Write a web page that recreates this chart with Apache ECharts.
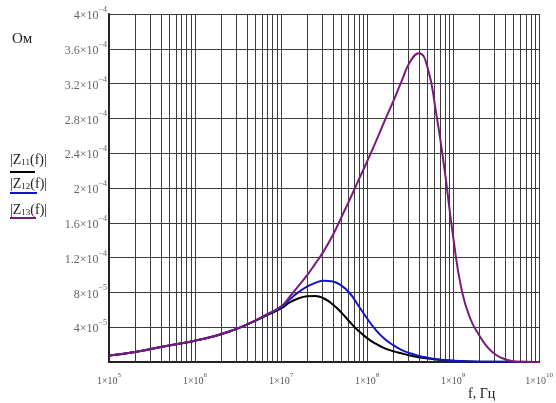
<!DOCTYPE html>
<html>
<head>
<meta charset="utf-8">
<script src="https://cdn.jsdelivr.net/npm/echarts@6/dist/echarts.min.js"></script>
<style>
html,body{margin:0;padding:0;background:#fff;}
#chart{width:556px;height:403px;}
</style>
</head>
<body>
<div id="chart"></div>
<script>
// ---- data ----
const fZ11 = [1e5, 2e5, 5e5, 1e6, 1.58e6, 2.5e6, 4e6, 6.3e6, 1e7, 1.26e7, 1.58e7, 2e7, 2.5e7, 3.16e7, 4e7, 5e7, 6.3e7, 7.9e7,
  1e8, 1.26e8, 1.58e8, 2e8, 2.5e8, 3.16e8, 4e8, 5e8, 6.3e8, 7.9e8, 1e9, 1.58e9, 2.5e9, 1e10];
const vZ11 = [7.5e-6, 1.15e-5, 1.9e-5, 2.45e-5, 2.9e-5, 3.5e-5, 4.3e-5, 5.2e-5, 6.15e-5, 6.85e-5, 7.3e-5, 7.55e-5, 7.6e-5, 7.3e-5, 6.6e-5, 5.7e-5, 4.6e-5, 3.6e-5,
  2.75e-5, 2.1e-5, 1.6e-5, 1.25e-5, 1.0e-5, 7.5e-6, 5.5e-6, 4.2e-6, 3.0e-6, 2.0e-6, 1.3e-6, 5e-7, 2e-7, 5e-8];

const fZ12 = [1e5, 2e5, 5e5, 1e6, 1.58e6, 2.5e6, 4e6, 6.3e6, 1e7, 1.26e7, 1.58e7, 2e7, 2.5e7, 3.16e7, 4e7, 5e7, 6.3e7, 7.9e7,
  1e8, 1.26e8, 1.58e8, 2e8, 2.5e8, 3.16e8, 4e8, 5e8, 6.3e8, 7.9e8, 1e9, 1.58e9, 2.5e9, 1e10];
const vZ12 = [7.5e-6, 1.15e-5, 1.9e-5, 2.45e-5, 2.9e-5, 3.5e-5, 4.3e-5, 5.25e-5, 6.3e-5, 7.2e-5, 8.0e-5, 8.65e-5, 9.1e-5, 9.35e-5, 9.25e-5, 8.8e-5, 7.9e-5, 6.5e-5,
  5.0e-5, 3.7e-5, 2.7e-5, 1.95e-5, 1.4e-5, 1.0e-5, 7e-6, 5e-6, 3.5e-6, 2.3e-6, 1.5e-6, 6e-7, 2e-7, 5e-8];

const fZ13 = [1e5, 2e5, 5e5, 1e6, 1.58e6, 2.5e6, 4e6, 6.3e6, 1e7, 1.26e7, 1.58e7, 2e7, 2.5e7, 3.16e7, 4e7, 5e7, 6.3e7, 7.9e7,
  1e8, 1.26e8, 1.58e8, 2e8, 2.5e8, 3.16e8, 4e8, 5e8, 6.3e8, 7.9e8, 1e9, 1.26e9, 1.58e9, 2e9, 2.5e9, 3.16e9, 4e9, 5e9, 6.3e9, 1e10];
const vZ13 = [7.5e-6, 1.15e-5, 1.9e-5, 2.45e-5, 2.9e-5, 3.5e-5, 4.3e-5, 5.3e-5, 6.4e-5, 7.5e-5, 8.7e-5, 9.95e-5, 1.13e-4, 1.28e-4, 1.46e-4, 1.66e-4, 1.87e-4, 2.085e-4,
  2.305e-4, 2.53e-4, 2.76e-4, 2.99e-4, 3.22e-4, 3.45e-4, 3.55e-4, 3.4e-4, 2.88e-4, 2.23e-4, 1.44e-4, 8.2e-5, 5.0e-5, 3.1e-5, 1.7e-5, 8e-6, 3.2e-6, 1e-6, 3e-7, 1e-7];

const xMin = 1e5, xMax = 1e10;
const yMin = 0, yMax = 4e-4, yStep = 4e-5;
const decades = [1e5, 1e6, 1e7, 1e8, 1e9];
const minorMultipliers = [2, 3, 4, 5, 6, 7, 8, 9];

const seriesNames = ['|Z11(f)|', '|Z12(f)|', '|Z13(f)|'];
const seriesColors = ['#000000', '#1414c8', '#7a1a7a'];

// ---- build ----
const pairs = (fs, vs) => fs.map((f, i) => [f, vs[i]]);
const minorLines = [];
decades.forEach(d => minorMultipliers.forEach(m => minorLines.push({ xAxis: d * m })));

const serif = '"Liberation Serif", "DejaVu Serif", serif';
const gridColor = '#3c3c3c';

function yLabel(v) {
  if (v <= 0) return '';
  let exp, man;
  if (v < 1e-4 - 1e-12) { exp = -5; man = v / 1e-5; } else { exp = -4; man = v / 1e-4; }
  man = Number(man.toFixed(1));
  return '{n|' + man + '×10}{s|−' + Math.abs(exp) + '}';
}
function xLabel(v) {
  const e = Math.round(Math.log10(v));
  return '{n|1×10}{s|' + e + '}';
}
const yRich = {
  n: { fontFamily: serif, fontSize: 12, color: '#666', lineHeight: 16, verticalAlign: 'bottom' },
  s: { fontFamily: serif, fontSize: 8, color: '#666', lineHeight: 16, verticalAlign: 'top' }
};
const xRich = {
  n: { fontFamily: serif, fontSize: 10, color: '#555', lineHeight: 14, verticalAlign: 'bottom' },
  s: { fontFamily: serif, fontSize: 7, color: '#555', lineHeight: 14, verticalAlign: 'top' }
};
const legRich = {
  a: { fontFamily: serif, fontSize: 14, fill: '#222', verticalAlign: 'bottom', lineHeight: 16 },
  b: { fontFamily: serif, fontSize: 9, fill: '#222', verticalAlign: 'bottom', lineHeight: 14 }
};

const chart = echarts.init(document.getElementById('chart'), null, { renderer: 'canvas' });

const lineSeries = [
  { f: fZ11, v: vZ11 },
  { f: fZ12, v: vZ12 },
  { f: fZ13, v: vZ13 }
].map((s, i) => ({
  name: seriesNames[i],
  type: 'line',
  data: pairs(s.f, s.v),
  showSymbol: false,
  smooth: 0.5,
  lineStyle: { color: seriesColors[i], width: 2 },
  z: 10 + i
}));

lineSeries.push({
  type: 'line',
  data: [],
  silent: true,
  markLine: {
    silent: true,
    symbol: ['none', 'none'],
    label: { show: false },
    lineStyle: { color: gridColor, width: 1, type: 'solid' },
    data: minorLines,
    animation: false
  }
});

const option = {
  animation: false,
  backgroundColor: '#fff',
  grid: { left: 109, right: 15, top: 14, bottom: 41, containLabel: false },
  xAxis: {
    type: 'log',
    logBase: 10,
    min: xMin,
    max: xMax,
    axisLine: { show: true, lineStyle: { color: '#222', width: 2 } },
    axisTick: { show: false },
    splitLine: { show: true, lineStyle: { color: gridColor, width: 1 } },
    axisLabel: { formatter: xLabel, rich: xRich, margin: 10 }
  },
  yAxis: {
    type: 'value',
    min: yMin,
    max: yMax,
    interval: yStep,
    axisLine: { show: true, lineStyle: { color: '#222', width: 2 } },
    axisTick: { show: false },
    splitLine: { show: true, lineStyle: { color: gridColor, width: 1 } },
    axisLabel: { formatter: yLabel, rich: yRich, margin: 2 }
  },
  graphic: [
    { type: 'text', left: 12, top: 32, style: { text: 'Ом', font: '15px ' + serif, fill: '#222' } },
    { type: 'text', left: 468, top: 387, style: { text: 'f, Гц', font: '14px ' + serif, fill: '#222' } },
    // legend entries
    { type: 'text', x: 10, y: 151, style: { text: '{a||Z}{b|11}{a|(f)|}', rich: legRich } },
    { type: 'line', shape: { x1: 10, y1: 172, x2: 35, y2: 172 }, style: { stroke: seriesColors[0], lineWidth: 2 } },
    { type: 'text', x: 10, y: 175, style: { text: '{a||Z}{b|12}{a|(f)|}', rich: legRich } },
    { type: 'line', shape: { x1: 10, y1: 193, x2: 37, y2: 193 }, style: { stroke: seriesColors[1], lineWidth: 2 } },
    { type: 'text', x: 10, y: 201, style: { text: '{a||Z}{b|13}{a|(f)|}', rich: legRich } },
    { type: 'line', shape: { x1: 10, y1: 218, x2: 36, y2: 218 }, style: { stroke: seriesColors[2], lineWidth: 2 } }
  ],
  series: lineSeries
};
chart.setOption(option);
</script>
</body>
</html>
